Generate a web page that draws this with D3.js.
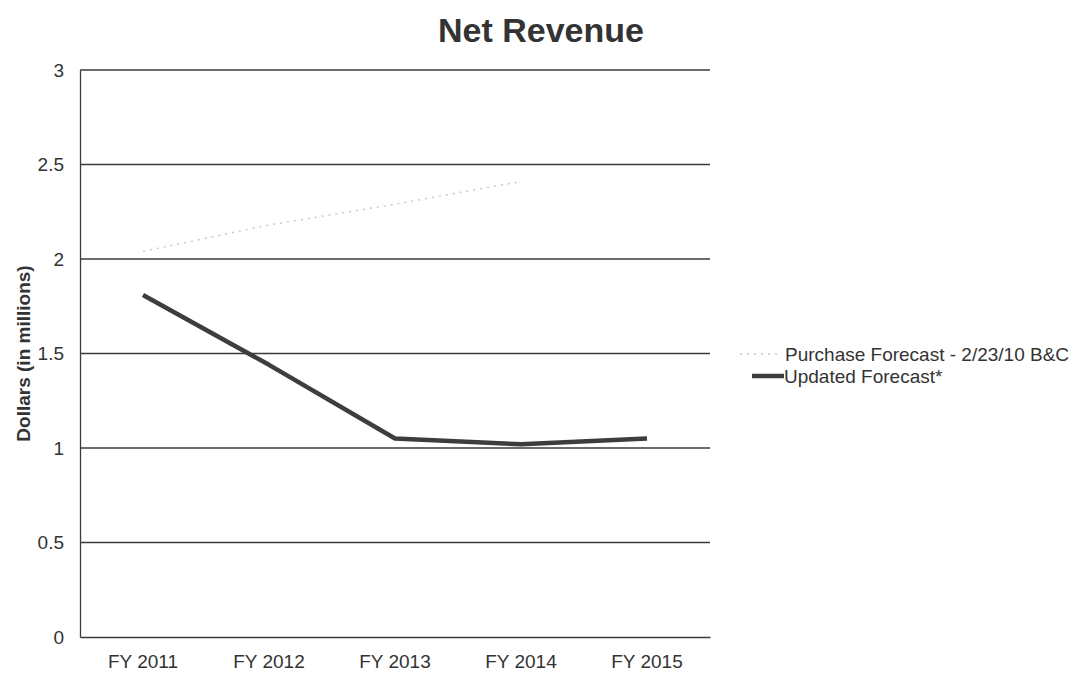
<!DOCTYPE html>
<html>
<head>
<meta charset="utf-8">
<script src="https://cdn.jsdelivr.net/npm/d3@7"></script>
<style>
  body { margin: 0; background: #fff; }
  text { font-family: "Liberation Sans", Arial, sans-serif; fill: #333; }
</style>
</head>
<body>
<div id="visContainer"></div>
<script>
'use strict';

// chart data
var years = ['FY 2011', 'FY 2012', 'FY 2013', 'FY 2014', 'FY 2015'];
var purchaseForecast = [2.04, 2.18, 2.29, 2.41];          // only runs to FY 2014
var updatedForecast = [1.81, 1.44, 1.05, 1.02, 1.05];
var yTicks = [0, 0.5, 1, 1.5, 2, 2.5, 3];

var width = 1087, height = 675;
var margin = {top: 70, left: 80, right: 377, bottom: 38};

var svg = d3.select('#visContainer')
  .append('svg')
  .attr('width', width)
  .attr('height', height);

var xScale = d3.scaleBand()
  .domain(years)
  .range([margin.left, width - margin.right]);

var yScale = d3.scaleLinear()
  .domain([0, 3])
  .range([height - margin.bottom, margin.top]);

// gridlines
svg.append('g')
  .selectAll('line')
  .data(yTicks.filter(function(d){ return d > 0; }))
  .enter().append('line')
  .attr('x1', margin.left)
  .attr('x2', width - margin.right)
  .attr('y1', function(d){ return yScale(d); })
  .attr('y2', function(d){ return yScale(d); })
  .attr('stroke', '#3a3a3a')
  .attr('stroke-width', 1.3);

// y axis
var yAxis = d3.axisLeft(yScale).tickValues(yTicks).tickSize(0).tickPadding(16)
  .tickFormat(function(d){ return d; });
var gy = svg.append('g')
  .attr('transform', 'translate(' + margin.left + ',0)')
  .call(yAxis);
gy.select('.domain').attr('stroke', '#3a3a3a').attr('stroke-width', 1.3);
gy.selectAll('text').style('font-size', '19px').attr('fill', '#333');

// x axis
var xAxis = d3.axisBottom(xScale).tickSize(0).tickPadding(18);
var gx = svg.append('g')
  .attr('transform', 'translate(0,' + yScale(0) + ')')
  .call(xAxis);
gx.select('.domain').attr('stroke', '#3a3a3a').attr('stroke-width', 1.3);
gx.selectAll('text').style('font-size', '19px').attr('fill', '#333');

// lines
var line = d3.line()
  .x(function(d, i){ return xScale(years[i]) + xScale.bandwidth() / 2; })
  .y(function(d){ return yScale(d); });

svg.append('path')
  .datum(purchaseForecast)
  .attr('d', line)
  .attr('fill', 'none')
  .attr('stroke', '#c8c8c8')
  .attr('stroke-width', 1.5)
  .attr('stroke-dasharray', '2,5');

svg.append('path')
  .datum(updatedForecast)
  .attr('d', line)
  .attr('fill', 'none')
  .attr('stroke', '#3d3d3d')
  .attr('stroke-width', 4.5)
  .attr('stroke-linejoin', 'round');

// title
svg.append('text')
  .attr('x', 541)
  .attr('y', 42)
  .attr('text-anchor', 'middle')
  .style('font-size', '34px')
  .style('font-weight', 'bold')
  .text('Net Revenue');

// y axis label
svg.append('text')
  .attr('transform', 'translate(30,' + yScale(1.5) + ') rotate(-90)')
  .attr('text-anchor', 'middle')
  .style('font-size', '19px')
  .style('font-weight', 'bold')
  .text('Dollars (in millions)');

// legend
var legend = svg.append('g').attr('transform', 'translate(752,354)');
legend.append('line')
  .attr('x1', -12).attr('x2', 30).attr('y1', 0).attr('y2', 0)
  .attr('stroke', '#c8c8c8').attr('stroke-width', 1.5).attr('stroke-dasharray', '2,5');
legend.append('text')
  .attr('x', 33).attr('y', 7)
  .style('font-size', '19px')
  .text('Purchase Forecast - 2/23/10 B&C');
legend.append('line')
  .attr('x1', 0).attr('x2', 32).attr('y1', 22).attr('y2', 22)
  .attr('stroke', '#3d3d3d').attr('stroke-width', 4.5);
legend.append('text')
  .attr('x', 32).attr('y', 29)
  .style('font-size', '19px')
  .text('Updated Forecast*');
</script>
</body>
</html>
